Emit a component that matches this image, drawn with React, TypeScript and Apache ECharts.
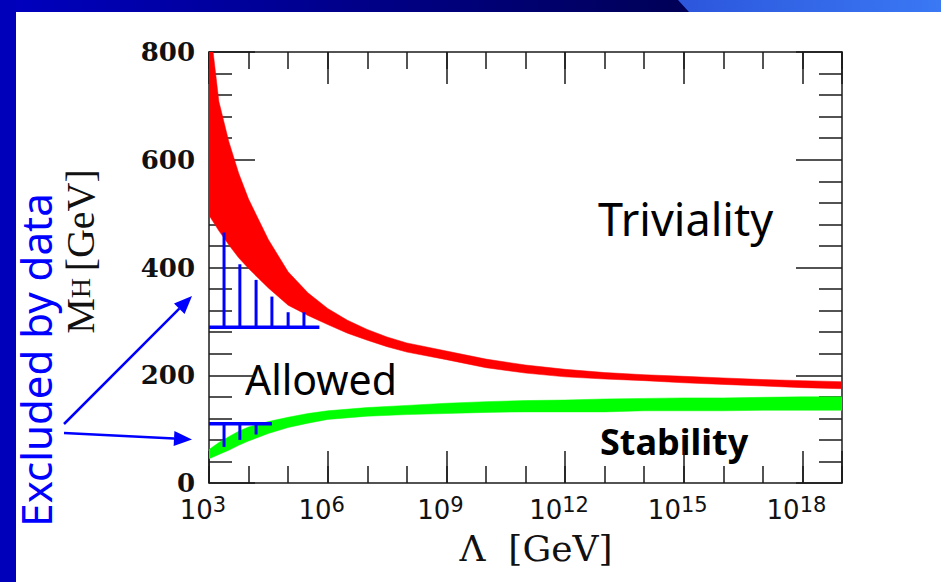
import { useEffect, useRef } from "react";
import * as echarts from "echarts";

// ---------- data (x values are log10 of Λ in GeV) ----------
const xMajorExponents = [3, 6, 9, 12, 15, 18];
const yTickValues = [0, 200, 400, 600, 800];

// Triviality (upper) bound band – red
const trivLogL = [3, 3.25, 3.5, 3.75, 4, 4.5, 5, 5.5, 6, 6.5, 7, 7.5, 8, 9, 10, 11, 12, 13, 14, 15, 16, 17, 18, 19];
const trivHigh = [866, 708, 634, 575, 527, 452, 392, 353, 324, 302, 285, 271, 260, 245, 230, 219, 211, 205, 201, 198, 195, 192, 190, 188];
const trivLow = [497, 468, 442, 418, 398, 362, 330, 311, 294, 278, 265, 253, 243, 229, 214, 204, 197, 193, 190, 186, 183, 180, 177, 175];

// Stability (lower) bound band – green
const stabLogL = [3, 3.25, 3.5, 3.75, 4, 4.5, 5, 5.5, 6, 7, 8, 9, 10, 11, 12, 13, 14, 15, 16, 17, 18, 19];
const stabHigh = [62, 75, 86, 96, 104, 114, 122, 129, 134, 140, 144, 148, 151, 153, 154, 156, 157, 158, 158, 159, 160, 160];
const stabLow = [45, 53, 61, 70, 78, 92, 103, 111, 118, 124, 127, 129, 131, 132, 132, 132, 134, 134, 134, 135, 135, 135];

// Excluded-by-data hatching (blue)
const upperHatchBase = 289;
const upperHatchEnd = 5.79;
const upperHatchX = [3.38, 3.78, 4.19, 4.59, 5.0, 5.4];
const upperHatchTop = [465, 406, 377, 346, 317, 317];

const lowerHatchBase = 110;
const lowerHatchEnd = 4.59;
const lowerHatchX = [3.38, 3.78, 4.19];
const lowerHatchBottom = [67, 80, 90];

const AXIS_COLOR = "#1a1a1a";

function bandSeries(name: string, xs: number[], lo: number[], hi: number[], color: string) {
  return {
    type: "custom",
    name,
    clip: true,
    silent: true,
    data: [[xs[0], lo[0]]],
    renderItem: (_p: any, api: any) => {
      const pts: number[][] = [];
      for (let i = 0; i < xs.length; i++) pts.push(api.coord([xs[i], hi[i]]));
      for (let i = xs.length - 1; i >= 0; i--) pts.push(api.coord([xs[i], lo[i]]));
      return { type: "polygon", shape: { points: pts }, style: { fill: color, stroke: color, lineWidth: 0.5 } };
    },
  };
}

function hatchSeries(name: string, xs: number[], ends: number[], base: number) {
  return {
    type: "custom",
    name,
    clip: true,
    silent: true,
    data: xs.map((x, i) => [x, ends[i]]),
    renderItem: (_p: any, api: any) => {
      const a = api.coord([api.value(0), base]);
      const b = api.coord([api.value(0), api.value(1)]);
      return {
        type: "line",
        shape: { x1: a[0], y1: a[1], x2: b[0], y2: b[1] },
        style: { stroke: "#0000ff", lineWidth: 3 },
      };
    },
  };
}

function arrow(x1: number, y1: number, x2: number, y2: number) {
  const dx = x2 - x1;
  const dy = y2 - y1;
  const len = Math.sqrt(dx * dx + dy * dy);
  const ux = dx / len;
  const uy = dy / len;
  const hl = 18;
  const hw = 7.5;
  const bx = x2 - ux * hl;
  const by = y2 - uy * hl;
  return [
    { type: "line", shape: { x1, y1, x2: bx, y2: by }, style: { stroke: "#0000ff", lineWidth: 2.5 } },
    {
      type: "polygon",
      shape: { points: [[x2, y2], [bx - uy * hw, by + ux * hw], [bx + uy * hw, by - ux * hw]] },
      style: { fill: "#0000ff" },
    },
  ];
}

export default function App() {
  const ref = useRef<HTMLDivElement>(null);

  useEffect(() => {
    if (!ref.current) return;
    const chart = echarts.init(ref.current, null, { renderer: "svg" });
    const lineStyle = { color: AXIS_COLOR, width: 1.5 };

    const xBase = {
      type: "value",
      min: 3,
      max: 19,
      gridIndex: 0,
      splitLine: { show: false },
      axisLine: { show: true, lineStyle },
    };

    const option: any = {
      animation: false,
      backgroundColor: "#ffffff",
      grid: { left: 209, top: 52, width: 633, height: 431, containLabel: false, outerBoundsMode: "none" },
      xAxis: [
        {
          ...xBase,
          position: "bottom",
          interval: 3,
          axisTick: { show: true, inside: true, length: 32, lineStyle },
          axisLabel: {
            show: true,
            showMinLabel: true,
            margin: 14,
            padding: [0, 12, 0, 0],
            formatter: (v: number) => (xMajorExponents.indexOf(v) >= 0 ? `{b|10}{s|${v}}` : ""),
            rich: {
              b: { fontFamily: "DejaVu Sans", fontSize: 26, color: "#111", verticalAlign: "bottom", lineHeight: 26 },
              s: {
                fontFamily: "DejaVu Sans",
                fontSize: 21,
                color: "#111",
                verticalAlign: "bottom",
                lineHeight: 24,
                padding: [0, 0, 8, 0],
              },
            },
          },
          name: "Λ  [GeV]",
          nameLocation: "middle",
          nameGap: 47,
          nameTextStyle: { fontFamily: "DejaVu Serif", fontSize: 36, color: "#111", padding: [0, 0, 0, 21] },
        },
        {
          ...xBase,
          position: "bottom",
          interval: 1,
          axisLine: { show: false },
          axisTick: { show: true, inside: true, length: 17, lineStyle },
          axisLabel: { show: false },
        },
        {
          ...xBase,
          position: "top",
          interval: 3,
          axisTick: { show: true, inside: true, length: 32, lineStyle },
          axisLabel: { show: false },
        },
        {
          ...xBase,
          position: "top",
          interval: 1,
          axisLine: { show: false },
          axisTick: { show: true, inside: true, length: 17, lineStyle },
          axisLabel: { show: false },
        },
      ],
      yAxis: [
        {
          type: "value",
          min: 0,
          max: 800,
          interval: 200,
          position: "left",
          splitLine: { show: false },
          axisLine: { show: true, lineStyle },
          axisTick: { show: true, inside: true, length: 46, lineStyle },
          minorTick: { show: true, splitNumber: 5, length: 23, lineStyle },
          minorSplitLine: { show: false },
          axisLabel: {
            show: true,
            showMinLabel: true,
            showMaxLabel: true,
            margin: 14,
            fontFamily: "DejaVu Serif",
            fontWeight: "bold",
            fontSize: 26,
            lineHeight: 18,
            color: "#111",
            formatter: (v: number) => (yTickValues.indexOf(v) >= 0 ? String(v) : ""),
          },
          name: "{m|M}{h|H}  {g|[GeV]}",
          nameLocation: "middle",
          nameRotate: 90,
          nameGap: 109,
          nameTextStyle: {
            padding: [0, 0, 0, 32],
            rich: {
              m: { fontFamily: "Liberation Serif", fontSize: 40, color: "#111" },
              h: { fontFamily: "Liberation Serif", fontSize: 28, color: "#111" },
              g: { fontFamily: "Liberation Serif", fontSize: 40, color: "#111" },
            },
          },
        },
        {
          type: "value",
          min: 0,
          max: 800,
          interval: 200,
          position: "right",
          splitLine: { show: false },
          axisLine: { show: true, lineStyle },
          axisTick: { show: true, inside: true, length: 46, lineStyle },
          minorTick: { show: true, splitNumber: 5, length: 23, lineStyle },
          minorSplitLine: { show: false },
          axisLabel: { show: false },
        },
      ],
      series: [
        bandSeries("Triviality", trivLogL, trivLow, trivHigh, "#ff0000"),
        bandSeries("Stability", stabLogL, stabLow, stabHigh, "#00ff00"),
        hatchSeries("Excluded (upper)", upperHatchX, upperHatchTop, upperHatchBase),
        hatchSeries("Excluded (lower)", lowerHatchX, lowerHatchBottom, lowerHatchBase),
        {
          type: "line",
          name: "Excluded upper edge",
          silent: true,
          symbol: "none",
          data: [[3, upperHatchBase], [upperHatchEnd, upperHatchBase]],
          lineStyle: { color: "#0000ff", width: 3.5 },
        },
        {
          type: "line",
          name: "Excluded lower edge",
          silent: true,
          symbol: "none",
          data: [[3, lowerHatchBase], [lowerHatchEnd, lowerHatchBase]],
          lineStyle: { color: "#0000ff", width: 3.5 },
        },
      ],
      graphic: [
        {
          type: "rect",
          silent: true,
          shape: { x: 0, y: 0, width: 941, height: 12 },
          style: {
            fill: new echarts.graphic.LinearGradient(0, 0, 1, 0, [
              { offset: 0, color: "#0000c0" },
              { offset: 0.72, color: "#000058" },
            ]),
          },
        },
        {
          type: "polygon",
          silent: true,
          shape: { points: [[678, 0], [941, 0], [941, 12], [689, 12]] },
          style: {
            fill: new echarts.graphic.LinearGradient(0, 0, 1, 0, [
              { offset: 0, color: "#2c56dc" },
              { offset: 1, color: "#3a78f4" },
            ]),
          },
        },
        { type: "rect", silent: true, shape: { x: 0, y: 0, width: 16, height: 582 }, style: { fill: "#0000bb" } },
        ...arrow(64, 424, 192, 296),
        ...arrow(64, 433, 192, 439.5),
        {
          type: "text",
          silent: true,
          x: 35,
          y: 360,
          rotation: Math.PI / 2,
          style: {
            text: "Excluded by data",
            x: 0,
            y: 0,
            fill: "#0000ff",
            fontFamily: "Comic Sans MS, Noto Sans",
            fontSize: 42,
            align: "center",
            verticalAlign: "middle",
            textAlign: "center",
            textVerticalAlign: "middle",
          },
        },
        {
          type: "text",
          silent: true,
          x: 598,
          y: 218,
          style: {
            text: "Triviality",
            fill: "#000",
            fontFamily: "Comic Sans MS, Noto Sans",
            fontSize: 45,
            align: "left",
            verticalAlign: "middle",
            textAlign: "left",
            textVerticalAlign: "middle",
          },
        },
        {
          type: "text",
          silent: true,
          x: 245,
          y: 379,
          style: {
            text: "Allowed",
            fill: "#000",
            fontFamily: "Comic Sans MS, Noto Sans",
            fontSize: 41,
            align: "left",
            verticalAlign: "middle",
            textAlign: "left",
            textVerticalAlign: "middle",
          },
        },
        {
          type: "text",
          silent: true,
          x: 600,
          y: 441,
          style: {
            text: "Stability",
            fill: "#000",
            fontFamily: "Comic Sans MS, Noto Sans",
            fontWeight: "bold",
            fontSize: 36,
            align: "left",
            verticalAlign: "middle",
            textAlign: "left",
            textVerticalAlign: "middle",
          },
        },
      ],
    };

    chart.setOption(option);
    return () => chart.dispose();
  }, []);

  return (
    <div
      ref={ref}
      style={{ position: "fixed", left: 0, top: 0, width: 941, height: 582, background: "#fff" }}
    />
  );
}
